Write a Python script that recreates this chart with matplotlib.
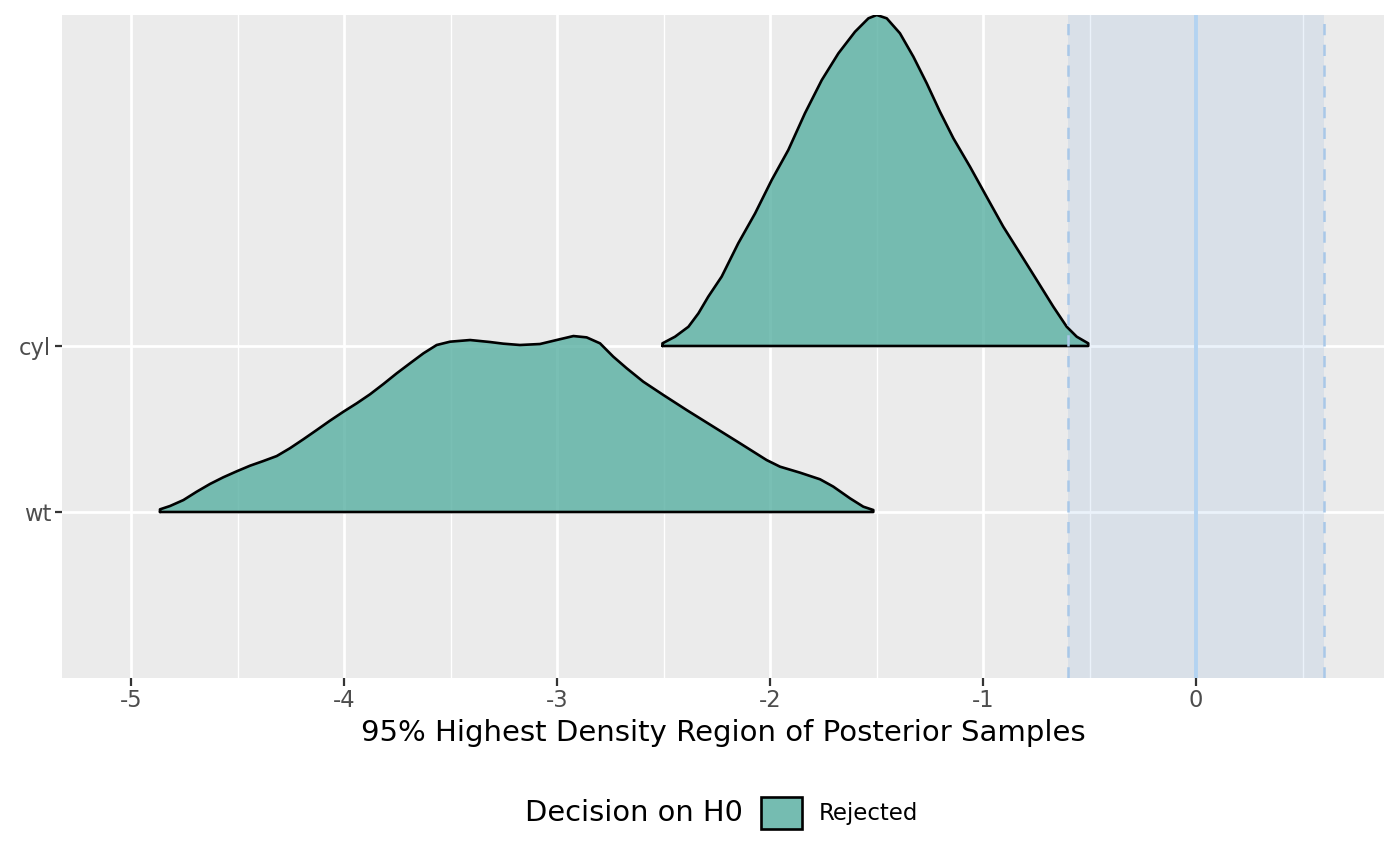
import numpy as np
import matplotlib
matplotlib.use("Agg")
import matplotlib.pyplot as plt
from matplotlib.patches import Patch

# ---- data ----
parameters = ["wt", "cyl"]
decision = "Rejected"

wt_x = [-4.864, -4.817, -4.754, -4.692, -4.629, -4.567, -4.504, -4.441, -4.379,
        -4.316, -4.254, -4.191, -4.128, -4.066, -4.003, -3.940, -3.878, -3.815,
        -3.753, -3.690, -3.627, -3.565, -3.502, -3.408, -3.315, -3.252, -3.174,
        -3.080, -3.002, -2.923, -2.861, -2.798, -2.736, -2.673, -2.595, -2.501,
        -2.391, -2.266, -2.141, -2.016, -1.953, -1.859, -1.765, -1.703, -1.624,
        -1.562, -1.515]
wt_density = [0.016, 0.036, 0.072, 0.122, 0.169, 0.209, 0.245, 0.279, 0.307,
              0.337, 0.384, 0.438, 0.494, 0.550, 0.604, 0.655, 0.709, 0.771,
              0.835, 0.896, 0.956, 1.006, 1.026, 1.036, 1.024, 1.014, 1.006,
              1.012, 1.036, 1.060, 1.052, 1.016, 0.936, 0.866, 0.785, 0.705,
              0.614, 0.514, 0.414, 0.313, 0.273, 0.237, 0.197, 0.153, 0.082,
              0.032, 0.012]

cyl_x = [-2.505, -2.446, -2.383, -2.336, -2.290, -2.227, -2.149, -2.070, -1.992,
         -1.914, -1.836, -1.757, -1.679, -1.601, -1.538, -1.499, -1.452, -1.390,
         -1.327, -1.264, -1.202, -1.139, -1.061, -0.983, -0.905, -0.826, -0.748,
         -0.670, -0.607, -0.560, -0.506]
cyl_density = [0.016, 0.056, 0.116, 0.197, 0.297, 0.418, 0.619, 0.799, 1.000,
               1.181, 1.402, 1.602, 1.763, 1.893, 1.974, 1.994, 1.974, 1.884,
               1.743, 1.582, 1.411, 1.251, 1.080, 0.899, 0.719, 0.558, 0.398,
               0.237, 0.116, 0.056, 0.016]

rope = [-0.6, 0.6]
null_value = 0
x_ticks = [-5, -4, -3, -2, -1, 0]
x_tick_labels = ["-5", "-4", "-3", "-2", "-1", "0"]

# ---- figure ----
W, H = 1400, 866
fig = plt.figure(figsize=(W / 100, H / 100), dpi=100)
fig.patch.set_facecolor("white")
ax = fig.add_axes([62 / W, 1 - 678 / H, (1384 - 62) / W, (678 - 15) / H])
ax.set_facecolor("#EBEBEB")
for s in ax.spines.values():
    s.set_visible(False)

ax.set_xlim(-5.324, 0.8826)
ax.set_ylim(0, 3.994)

# grid
ax.set_xticks(x_ticks)
ax.set_xticklabels(x_tick_labels)
ax.set_xticks([-4.5, -3.5, -2.5, -1.5, -0.5, 0.5], minor=True)
ax.set_yticks([1, 2])
ax.set_yticklabels(parameters)
ax.grid(which="major", color="white", linewidth=2.0)
ax.grid(which="minor", axis="x", color="white", linewidth=1.0)
ax.set_axisbelow(True)

ax.tick_params(axis="both", which="major", length=5.4, width=1.6, color="#333333",
               labelcolor="#4D4D4D", labelsize=16.3, pad=2.5)
ax.tick_params(axis="both", which="minor", length=0)

# densities
fill_col = "#58B0A2"
ridges = [(wt_x, wt_density, 1), (cyl_x, cyl_density, 2)]
for xs, ds, base in ridges:
    xs = np.asarray(xs)
    ds = np.asarray(ds)
    ax.fill_between(xs, base, base + ds, facecolor=fill_col, alpha=0.8,
                    edgecolor="none", zorder=3)
    px = np.r_[xs[0], xs, xs[-1], xs[0]]
    py = np.r_[base, base + ds, base, base]
    ax.plot(px, py, color="black", linewidth=1.9, zorder=4,
            solid_joinstyle="round", solid_capstyle="round")

# ROPE
ax.axvspan(rope[0], rope[1], color="#4187D7", alpha=0.1, linewidth=0, zorder=2)
for r in rope:
    ax.axvline(r, color="#A9C8E8", linewidth=1.8, linestyle=(0, (4.5, 3.8)), zorder=5)
ax.axvline(null_value, color="#B3D3F1", linewidth=2.8, zorder=5)

# axis labels
ax.set_xlabel("95% Highest Density Region of Posterior Samples", fontsize=21,
              color="black", va="center")
ax.xaxis.set_label_coords(0.5, (678 - 733) / (678 - 15))

# legend
fig.text(743 / W, 1 - 813 / H, "Decision on H0", ha="right", va="center",
         fontsize=20.8, color="black")
leg = fig.legend(handles=[Patch(facecolor="#75BCB1", edgecolor="black", linewidth=1.9)],
                 labels=[decision], loc="center left",
                 bbox_to_anchor=(761 / W, 1 - 813 / H), frameon=False,
                 fontsize=16.5, handlelength=1.79, handleheight=1.75,
                 handletextpad=0.74, borderpad=0, borderaxespad=0)

fig.savefig("out.png", dpi=100)
